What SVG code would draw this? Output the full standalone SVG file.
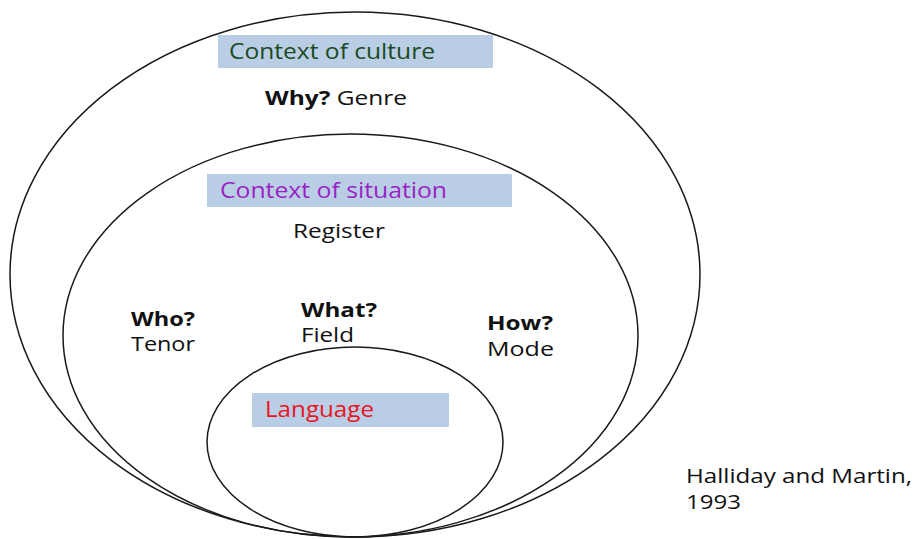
<svg xmlns="http://www.w3.org/2000/svg" width="920" height="539" viewBox="0 0 920 539">
<style>
.ring{fill:none;stroke:#1a1a1a;stroke-width:1.5}
.box{fill:#b9cde5}
text{font-family:"Open Sans","Noto Sans","Liberation Sans",sans-serif;font-size:20px;fill:#111}
.b{font-weight:bold}
</style>
<rect width="920" height="539" fill="#fff"/>
<g id="culture">
<ellipse class="ring" cx="355" cy="274.5" rx="345" ry="262.5"/>
<rect class="box" x="218" y="35" width="275" height="33"/>
<text x="229" y="59" style="font-size:21px;fill:#1a4a22" textLength="206" lengthAdjust="spacingAndGlyphs">Context of culture</text>
<text x="265" y="105" textLength="142" lengthAdjust="spacingAndGlyphs"><tspan class="b">Why?</tspan> Genre</text>
</g>
<g id="situation">
<ellipse class="ring" cx="350.5" cy="335.5" rx="287.5" ry="201.5"/>
<rect class="box" x="207" y="174" width="305" height="33"/>
<text x="220" y="198" style="font-size:21px;fill:#9b1fc6" textLength="227" lengthAdjust="spacingAndGlyphs">Context of situation</text>
<text x="293" y="238" textLength="92" lengthAdjust="spacingAndGlyphs">Register</text>
<text x="131" y="326" class="b" textLength="64" lengthAdjust="spacingAndGlyphs">Who?</text>
<text x="131" y="351" textLength="64" lengthAdjust="spacingAndGlyphs">Tenor</text>
<text x="301" y="317" class="b" textLength="76" lengthAdjust="spacingAndGlyphs">What?</text>
<text x="301" y="342" textLength="53" lengthAdjust="spacingAndGlyphs">Field</text>
<text x="487" y="330" class="b" textLength="66" lengthAdjust="spacingAndGlyphs">How?</text>
<text x="487" y="356" textLength="67" lengthAdjust="spacingAndGlyphs">Mode</text>
</g>
<g id="language">
<ellipse class="ring" cx="355" cy="442" rx="148" ry="95"/>
<rect class="box" x="252" y="393" width="197" height="34"/>
<text x="265" y="417" style="font-size:21px;fill:#e8141c" textLength="109" lengthAdjust="spacingAndGlyphs">Language</text>
</g>
<g id="connectors"></g>
<g id="citation">
<text x="686" y="483" textLength="226" lengthAdjust="spacingAndGlyphs">Halliday and Martin,</text>
<text x="686" y="509" textLength="55" lengthAdjust="spacingAndGlyphs">1993</text>
</g>
</svg>
